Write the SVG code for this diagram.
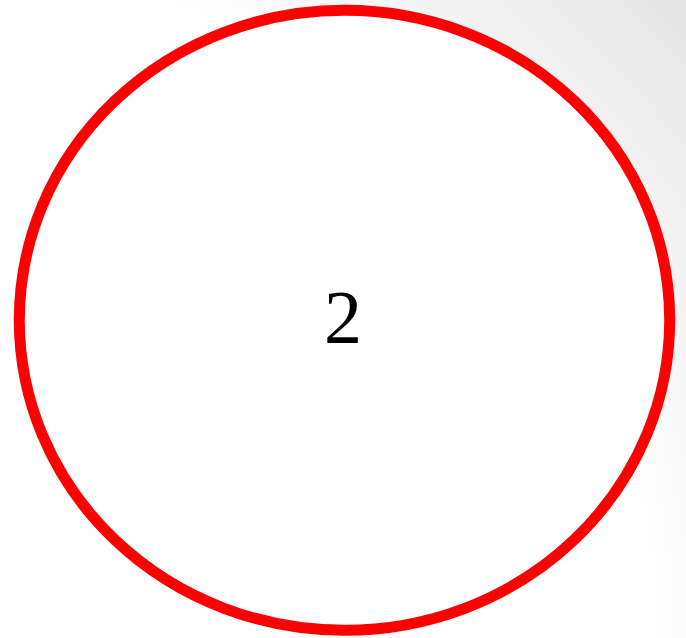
<svg xmlns="http://www.w3.org/2000/svg" width="686" height="638" viewBox="0 0 686 638">
  <defs>
    <radialGradient id="bg" gradientUnits="userSpaceOnUse" cx="0" cy="638" r="940">
      <stop offset="0.68" stop-color="#ffffff"/>
      <stop offset="1" stop-color="#e4e4e4"/>
    </radialGradient>
  </defs>
  <style>
    .node-shape { fill: #ffffff; stroke: #ff0000; stroke-width: 11; }
    .node-label { font-family: "Liberation Serif", "Times New Roman", serif; font-size: 76px; fill: #000000; text-anchor: middle; }
  </style>
  <rect x="0" y="0" width="686" height="638" fill="url(#bg)"/>
  <g id="connectors"></g>
  <g id="node-2">
    <ellipse class="node-shape" cx="344.5" cy="320.3" rx="325.2" ry="310"/>
    <text class="node-label" x="343" y="342.5">2</text>
  </g>
</svg>
